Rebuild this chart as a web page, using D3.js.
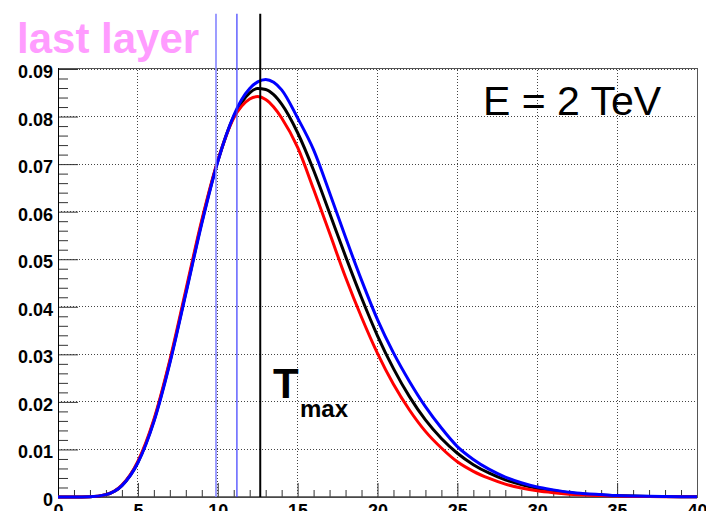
<!DOCTYPE html>
<html lang="en">
<head>
  <meta charset="UTF-8">
  <title>Longitudinal shower profile, E = 2 TeV</title>
  <script src="https://cdn.jsdelivr.net/npm/d3@7"></script>
  <style>
    body { margin: 0; background: #fff; }
    svg { display: block; font-family: "Liberation Sans", Arial, sans-serif; }
    .tick text { font-weight: bold; font-size: 18px; fill: #000; }
    .tick line { stroke: #333; }
    .domain { display: none; }
  </style>
</head>
<body>
  <div id="chart"></div>

  <script>
    // shower depth samples (radiation lengths)
    const depth = [0, 1, 2, 3, 4, 5, 6, 7, 8, 9, 10, 11, 11.5, 12, 12.5, 13, 13.5,
      14, 15, 16, 17, 18, 19, 20, 21, 22, 23, 24, 25, 26, 27, 28, 29, 30,
      31, 32, 33, 34, 35, 36, 37, 38, 39, 40];

    // profile values
    const redProfile = [0, 0, 0.00004, 0.0005, 0.0025, 0.0075, 0.0163, 0.0288, 0.0435, 0.0582, 0.0707,
      0.0797, 0.0822, 0.0837, 0.0842, 0.0836, 0.0820, 0.0797, 0.0735, 0.0647, 0.0555, 0.0462,
      0.0378, 0.0302, 0.0237, 0.0183, 0.0138, 0.0103, 0.0074, 0.0054, 0.0039, 0.0027, 0.0019,
      0.0013, 0.0009, 0.0006, 0.0004, 0.0003, 0.0002, 0.00013, 0.00009, 0.00006, 0.00004, 0.00003];

    const blackProfile = [0, 0, 0.00004, 0.0005, 0.0024, 0.0073, 0.0160, 0.0284, 0.0430, 0.0578, 0.0706,
      0.0800, 0.0830, 0.0850, 0.0859, 0.0857, 0.0846, 0.0826, 0.0766, 0.0687, 0.0597, 0.0506,
      0.0419, 0.0339, 0.0270, 0.0211, 0.0162, 0.0123, 0.0092, 0.0068, 0.0050, 0.0036, 0.0026,
      0.0018, 0.0013, 0.0009, 0.0006, 0.0004, 0.0003, 0.0002, 0.00013, 0.00009, 0.00006, 0.00004];

    const blueProfile = [0, 0, 0.00004, 0.0005, 0.0024, 0.0072, 0.0158, 0.0281, 0.0427, 0.0575, 0.0705,
      0.0802, 0.0836, 0.0859, 0.0873, 0.0878, 0.0872, 0.0856, 0.0797, 0.0730, 0.0640, 0.0546,
      0.0456, 0.0373, 0.0303, 0.0243, 0.0190, 0.0145, 0.0106, 0.0079, 0.0058, 0.0042, 0.0030,
      0.0021, 0.0015, 0.0010, 0.0007, 0.0005, 0.0003, 0.0002, 0.00014, 0.0001, 0.00007, 0.00005];

    // vertical markers: last layer positions and Tmax
    const markerX = [9.89, 11.2, 12.66];
    const markerTop = 0.1016;

    const xMajor = [0, 5, 10, 15, 20, 25, 30, 35, 40];
    const yMajor = [0, 0.01, 0.02, 0.03, 0.04, 0.05, 0.06, 0.07, 0.08, 0.09];

    const width = 706, height = 511;
    const x = d3.scaleLinear().domain([0, 40]).range([58, 697]);
    const y = d3.scaleLinear().domain([0, 0.09]).range([497, 69]);

    const svg = d3.select('#chart').append('svg')
      .attr('width', width)
      .attr('height', height);

    // dotted grid
    const grid = svg.append('g')
      .attr('stroke', '#444')
      .attr('stroke-dasharray', '1,2')
      .attr('shape-rendering', 'crispEdges');
    grid.selectAll('.gx')
      .data(xMajor.slice(1, -1))
      .enter().append('line')
        .attr('x1', d => x(d)).attr('x2', d => x(d))
        .attr('y1', y(0)).attr('y2', y(0.09));
    grid.selectAll('.gy')
      .data(yMajor.slice(1))
      .enter().append('line')
        .attr('x1', x(0)).attr('x2', x(40))
        .attr('y1', d => y(d)).attr('y2', d => y(d));

    // axes, ticks pointing into the frame
    const yMinor = d3.range(0, 0.0901, 0.002).filter(v => Math.abs(v * 100 - Math.round(v * 100)) > 1e-6);
    svg.append('g')
      .attr('transform', `translate(${x(0)},0)`)
      .call(d3.axisLeft(y).tickValues(yMinor).tickSize(-10).tickFormat(''));
    svg.append('g')
      .attr('transform', `translate(${x(0)},0)`)
      .call(d3.axisLeft(y).tickValues(yMajor).tickSize(-20).tickPadding(5)
        .tickFormat(d => d === 0 ? '0' : d3.format('.2f')(d)))
      .selectAll('text').attr('dy', '0.47em');

    const xMinor = d3.range(1, 40).filter(v => v % 5 !== 0);
    svg.append('g')
      .attr('transform', `translate(0,${y(0)})`)
      .call(d3.axisBottom(x).tickValues(xMinor).tickSize(-7).tickFormat(''));
    svg.append('g')
      .attr('transform', `translate(0,${y(0)})`)
      .call(d3.axisBottom(x).tickValues(xMajor).tickSize(-14).tickPadding(7));

    // frame
    svg.append('rect')
      .attr('x', x(0)).attr('y', y(0.09) - 1)
      .attr('width', x(40) - x(0)).attr('height', y(0) - y(0.09) + 1)
      .attr('fill', 'none')
      .attr('stroke', '#555')
      .attr('shape-rendering', 'crispEdges');
    svg.append('line')
      .attr('x1', x(0)).attr('x2', x(0))
      .attr('y1', y(0.09) - 1).attr('y2', y(0))
      .attr('stroke', '#000').attr('shape-rendering', 'crispEdges');
    svg.append('line')
      .attr('x1', x(0)).attr('x2', x(40))
      .attr('y1', y(0)).attr('y2', y(0))
      .attr('stroke', '#444').attr('stroke-width', 1.5);

    // profiles
    const line = d3.line()
      .x((d, i) => x(depth[i]))
      .y(d => y(d))
      .curve(d3.curveMonotoneX);

    const series = [
      { values: blackProfile, color: '#000000' },
      { values: redProfile, color: '#ff0000' },
      { values: blueProfile, color: '#0000ff' }
    ];
    svg.append('g').selectAll('path')
      .data(series)
      .enter().append('path')
        .attr('d', d => line(d.values))
        .attr('fill', 'none')
        .attr('stroke', d => d.color)
        .attr('stroke-width', 3)
        .attr('stroke-linejoin', 'round');

    // vertical marker lines
    const markerColors = ['#8585ff', '#3a3aff', '#000000'];
    const markerWidths = [1.6, 1.2, 2];
    svg.append('g').selectAll('line')
      .data(markerX)
      .enter().append('line')
        .attr('x1', d => x(d)).attr('x2', d => x(d))
        .attr('y1', y(markerTop)).attr('y2', y(0))
        .attr('stroke', (d, i) => markerColors[i])
        .attr('stroke-width', (d, i) => markerWidths[i]);

    // labels
    svg.append('text')
      .attr('x', 17).attr('y', 53)
      .attr('font-size', 42).attr('font-weight', 'bold')
      .attr('fill', '#ff9cff')
      .text('last layer');

    svg.append('text')
      .attr('x', 483).attr('y', 115)
      .attr('font-size', 41)
      .attr('fill', '#000')
      .text('E = 2 TeV');

    const tmax = svg.append('text')
      .attr('x', 273).attr('y', 398)
      .attr('font-weight', 'bold')
      .attr('fill', '#000');
    tmax.append('tspan').attr('font-size', 42).text('T');
    tmax.append('tspan').attr('font-size', 24).attr('x', 300).attr('y', 417).text('max');
  </script>
</body>
</html>
